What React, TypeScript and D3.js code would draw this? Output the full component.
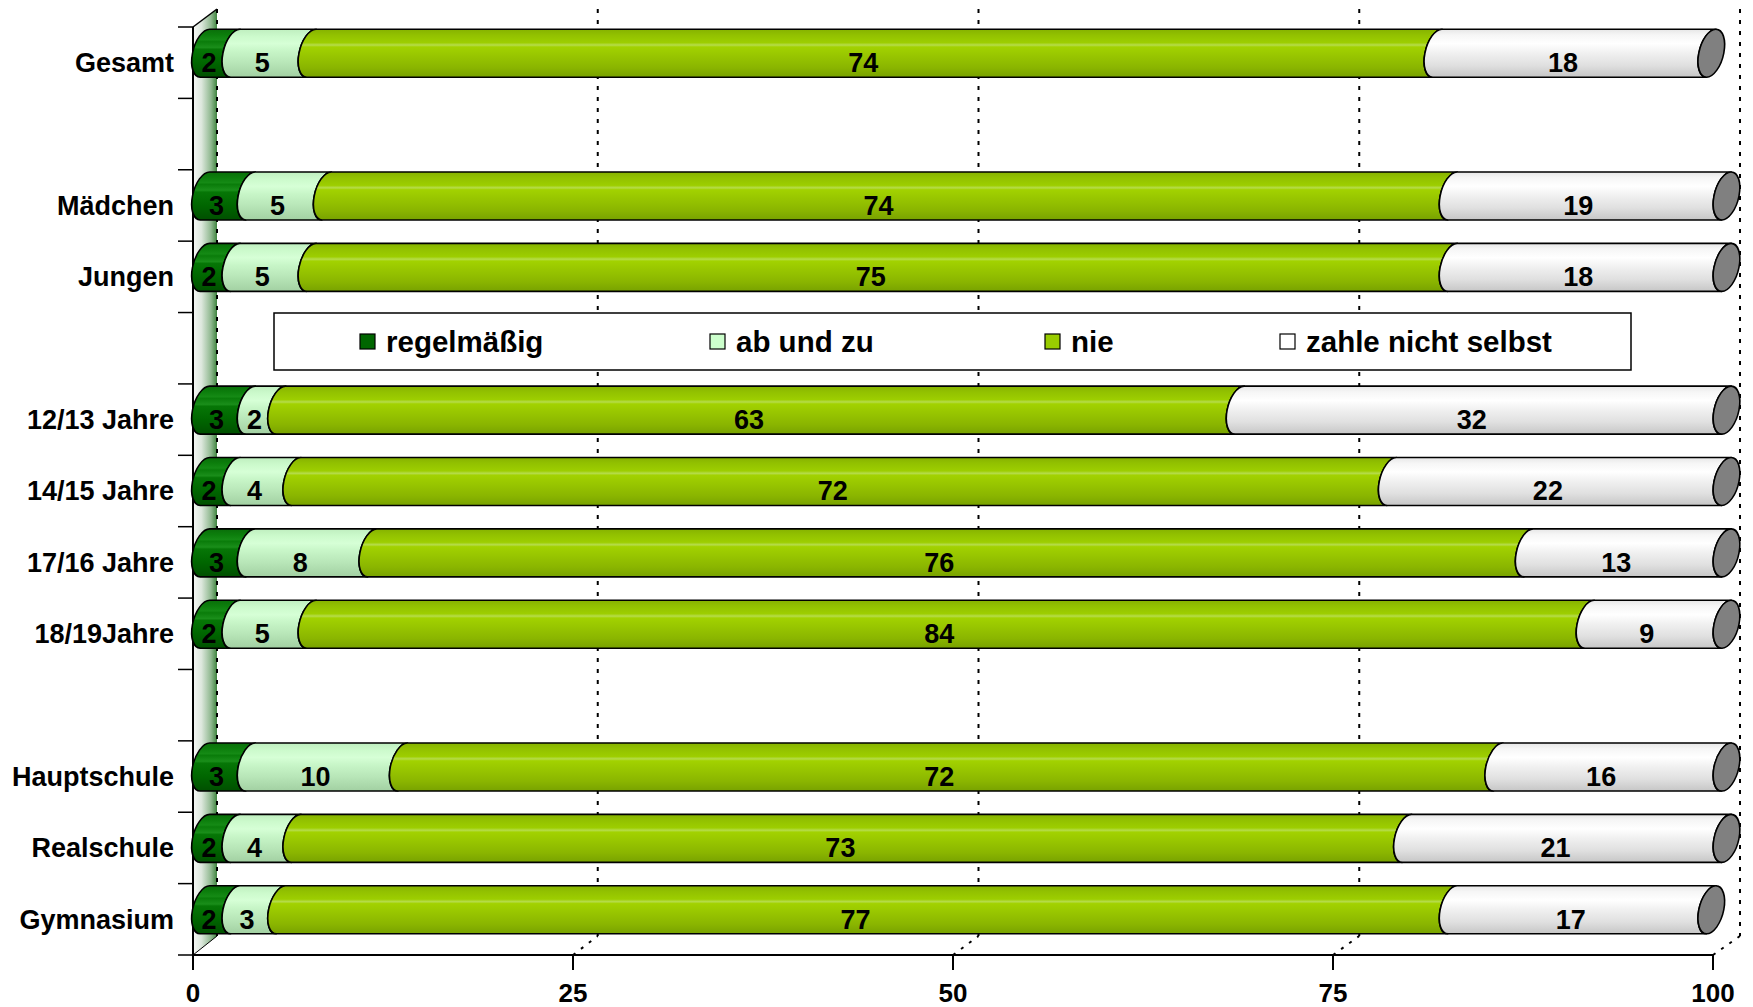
import React from "react";
import * as d3 from "d3";

const categories = ["Gesamt", "", "Mädchen", "Jungen", "", "12/13 Jahre", "14/15 Jahre", "17/16 Jahre", "18/19Jahre", "", "Hauptschule", "Realschule", "Gymnasium"];
const regelmaessig = [2, null, 3, 2, null, 3, 2, 3, 2, null, 3, 2, 2];
const abUndZu = [5, null, 5, 5, null, 2, 4, 8, 5, null, 10, 4, 3];
const nie = [74, null, 74, 75, null, 63, 72, 76, 84, null, 72, 73, 77];
const zahleNichtSelbst = [18, null, 19, 18, null, 32, 22, 13, 9, null, 16, 21, 17];
const seriesNames = ["regelmäßig", "ab und zu", "nie", "zahle nicht selbst"];
const xTicks = [0, 25, 50, 75, 100];

const W = 1753;
const H = 1007;
const FONT = "'Liberation Sans', Arial, sans-serif";

const swatchColors = ["#006600", "#ccffcc", "#99cc00", "#ffffff"];
const gradStops: [number, string][][] = [
  [[0, "#0a6e0a"], [0.12, "#0c7e0c"], [0.22, "#158a15"], [0.26, "#0a7c0a"], [0.38, "#1a8e1a"], [0.42, "#067606"], [0.7, "#006600"], [1, "#004f00"]],
  [[0, "#bfeebf"], [0.15, "#ccfacc"], [0.3, "#d6ffd6"], [0.45, "#c8f6c8"], [0.7, "#b8e6b8"], [1, "#a2d0a2"]],
  [[0, "#86b200"], [0.12, "#92c100"], [0.28, "#9dce00"], [0.33, "#b6dc4c"], [0.37, "#a2d200"], [0.55, "#98c600"], [0.8, "#8ab500"], [1, "#78a200"]],
  [[0, "#e6e6e6"], [0.12, "#f6f6f6"], [0.3, "#ffffff"], [0.5, "#f0f0f0"], [0.75, "#e0e0e0"], [1, "#c6c6c6"]],
];

export default function App() {
  const series = [regelmaessig, abUndZu, nie, zahleNichtSelbst];
  const frontTop = 27;
  const floorY = 955;
  const depthDy = -19;
  const backTop = 9;
  const xFront = d3.scaleLinear().domain([0, 100]).range([193, 1713]);
  const xBack = d3.scaleLinear().domain([0, 100]).range([217, 1740]);
  const xMid = d3.scaleLinear().domain([0, 100]).range([205, 1726.5]).clamp(true);
  const y = d3.scaleBand<number>().domain(d3.range(categories.length)).range([frontTop, floorY]).padding(0);
  const bw = y.bandwidth();
  const barH = 48;
  const rx = 12.5;
  const ry = barH / 2;
  const skew = -11;

  const segPath = (xs: number, xe: number) =>
    `M${xs},${-ry}L${xe},${-ry}A${rx},${ry} 0 0 0 ${xe},${ry}L${xs},${ry}A${rx},${ry} 0 0 1 ${xs},${-ry}Z`;

  const legendX = [360, 710, 1045, 1280];

  return (
    <div style={{ position: "absolute", left: 0, top: 0 }}>
      <svg width={W} height={H} viewBox={`0 0 ${W} ${H}`} style={{ display: "block", background: "#fff" }}>
        <defs>
          {gradStops.map((stops, i) => (
            <linearGradient key={i} id={`g${i}`} x1="0" y1="0" x2="0" y2="1">
              {stops.map(([o, c], j) => (
                <stop key={j} offset={o} stopColor={c} />
              ))}
            </linearGradient>
          ))}
          <linearGradient id="wall" x1="0" y1="0" x2="1" y2="0">
            <stop offset="0" stopColor="#f6f8f6" />
            <stop offset="0.35" stopColor="#dde8dd" />
            <stop offset="0.75" stopColor="#8fb88f" />
            <stop offset="1" stopColor="#3f853f" />
          </linearGradient>
        </defs>

        {/* side wall */}
        <polygon
          points={`${xFront(0)},${frontTop} ${xBack(0)},${backTop} ${xBack(0)},${floorY + depthDy} ${xFront(0)},${floorY}`}
          fill="url(#wall)"
        />
        <line x1={xFront(0)} y1={frontTop} x2={xBack(0)} y2={backTop} stroke="#000" strokeWidth={1.5} />
        <line x1={xFront(0)} y1={floorY} x2={xBack(0)} y2={floorY + depthDy} stroke="#000" strokeWidth={1} />

        {/* back gridlines */}
        {xTicks.map((t) => (
          <g key={t}>
            <line x1={xBack(t)} y1={backTop} x2={xBack(t)} y2={floorY + depthDy} stroke="#000" strokeWidth={2} strokeDasharray="4 7" />
            {t > 0 && (
              <line x1={xFront(t)} y1={floorY} x2={xBack(t)} y2={floorY + depthDy} stroke="#000" strokeWidth={2} strokeDasharray="3 7" />
            )}
          </g>
        ))}

        {/* legend */}
        <rect x={274} y={313} width={1357} height={57} fill="#fff" stroke="#000" strokeWidth={1.5} />
        {seriesNames.map((name, i) => (
          <g key={name}>
            <rect x={legendX[i]} y={334} width={15} height={15} fill={swatchColors[i]} stroke="#000" strokeWidth={1.2} />
            <text x={legendX[i] + 26} y={342} dy="0.35em" fontFamily={FONT} fontWeight="bold" fontSize={29.5} fill="#000">
              {name}
            </text>
          </g>
        ))}

        {/* axes */}
        <line x1={xFront(0)} y1={frontTop} x2={xFront(0)} y2={floorY} stroke="#000" strokeWidth={2} />
        {d3.range(categories.length + 1).map((i) => {
          const yy = i < categories.length ? (y(i) as number) : floorY;
          return <line key={i} x1={178} y1={yy} x2={xFront(0)} y2={yy} stroke="#000" strokeWidth={1.5} />;
        })}
        <line x1={xFront(0)} y1={floorY} x2={xFront(100)} y2={floorY} stroke="#000" strokeWidth={2} />
        {xTicks.map((t) => (
          <g key={t}>
            <line x1={xFront(t)} y1={floorY} x2={xFront(t)} y2={floorY + 15} stroke="#000" strokeWidth={2} />
            <text x={xFront(t)} y={993} dy="0.35em" textAnchor="middle" fontFamily={FONT} fontWeight="bold" fontSize={26} fill="#000">
              {t}
            </text>
          </g>
        ))}

        {/* category labels */}
        {categories.map((c, i) =>
          c ? (
            <text key={i} x={174} y={(y(i) as number) + bw / 2} dy="0.35em" textAnchor="end" fontFamily={FONT} fontWeight="bold" fontSize={27} fill="#000">
              {c}
            </text>
          ) : null
        )}

        {/* bars */}
        {categories.map((c, i) => {
          if (regelmaessig[i] == null) return null;
          const cy = (y(i) as number) + bw / 2 + depthDy / 2;
          let acc = 0;
          const segs = series.map((s, k) => {
            const v = s[i] as number;
            const start = acc;
            acc += v;
            return { k, v, start, end: acc };
          });
          return (
            <g key={i}>
              <g transform={`translate(0,${cy}) skewX(${skew})`}>
                {segs.map((sg) => (
                  <path
                    key={sg.k}
                    d={segPath(xMid(sg.start), xMid(sg.end))}
                    fill={`url(#g${sg.k})`}
                    stroke="#000"
                    strokeWidth={1.6}
                    strokeLinejoin="round"
                  />
                ))}
                <ellipse cx={xMid(acc)} cy={0} rx={rx} ry={ry} fill="#808080" stroke="#000" strokeWidth={1.6} />
              </g>
              {segs.map((sg) => (
                <text
                  key={sg.k}
                  x={(xMid(sg.start) + xMid(sg.end)) / 2 - rx * 0.9}
                  y={(y(i) as number) + bw / 2}
                  dy="0.35em"
                  textAnchor="middle"
                  fontFamily={FONT}
                  fontWeight="bold"
                  fontSize={27}
                  fill="#000"
                >
                  {sg.v}
                </text>
              ))}
            </g>
          );
        })}
      </svg>
    </div>
  );
}
